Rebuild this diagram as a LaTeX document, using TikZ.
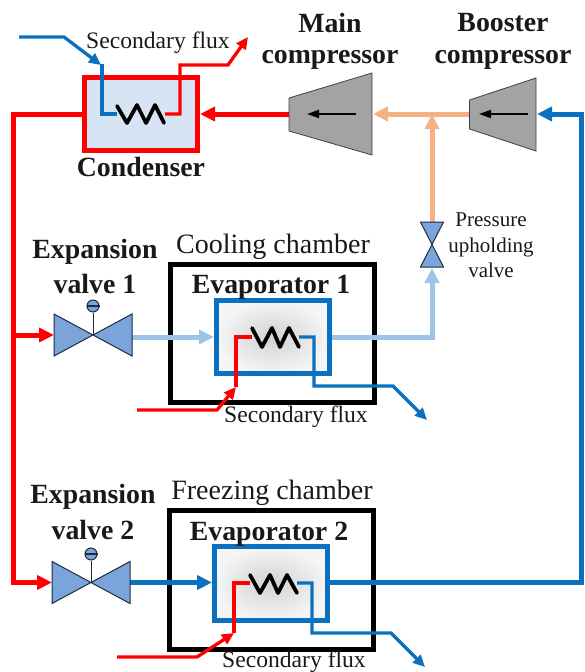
\documentclass[tikz,border=0pt]{standalone}
\usepackage{fontspec}
\setmainfont{Liberation Serif}
\usetikzlibrary{arrows.meta}
\definecolor{cred}{HTML}{FF0000}
\definecolor{cblue}{HTML}{0A70C0}
\definecolor{clight}{HTML}{9DC3E6}
\definecolor{corange}{HTML}{F4B183}
\definecolor{cvalve}{HTML}{7BA5DA}
\definecolor{cedge}{HTML}{1D2B40}
\definecolor{cgray}{HTML}{A3A3A3}
\tikzset{
  pipe/.style={line width=5pt,line join=miter},
  flux/.style={line width=3.3pt,line join=miter},
  bigtip/.style={-{Triangle[length=15pt,width=14pt]}},
  smalltip/.style={-{Triangle[length=12pt,width=11pt]}},
  chamber/.style={draw=black,line width=5pt,inner sep=0pt,fill=white},
  evap/.style={draw=cblue,line width=5pt,inner sep=0pt,minimum width=113pt,inner color=gray!35,outer color=gray!8},
  cond/.style={draw=cred,line width=5pt,inner sep=0pt,minimum width=113pt,minimum height=73pt,fill=cvalve!30},
  coil/.style={draw=black,line width=3.8pt,line join=round,line cap=round},
  valveshape/.style={draw=cedge,line width=1pt,fill=cvalve,line join=miter},
  comp/.style={draw=black!75,line width=.8pt,fill=cgray},
  inner/.style={draw=black,line width=1.8pt,-{Triangle[length=12pt,width=8pt]}},
  bold/.style={font=\fontsize{27.8}{30}\selectfont\bfseries,inner sep=0pt,text=black!90},
  plain/.style={font=\fontsize{28}{30}\selectfont,inner sep=0pt,text=black!90},
  small/.style={font=\fontsize{23.6}{28}\selectfont,inner sep=0pt,text=black!90},
  tiny/.style={font=\fontsize{21}{24}\selectfont,inner sep=0pt,text=black!90},
}
\begin{document}
\begin{tikzpicture}[x=1pt,y=-1pt]
\useasboundingbox (0,0) rectangle (584,672);
% chambers and exchangers
\node[chamber,minimum width=204pt,minimum height=138pt] (box1) at (272.5,333.5) {};
\node[chamber,minimum width=204pt,minimum height=139pt] (box2) at (271.5,580) {};
\node[evap,minimum height=73pt] (ev1) at (273,337) {};
\node[evap,minimum height=74pt] (ev2) at (271,583.5) {};
\node[cond] (con) at (141,114) {};
% anchors
\coordinate (m1) at (289,114); \coordinate (m2) at (373,114);
\coordinate (b1) at (469.5,114); \coordinate (b2) at (537,114);
\coordinate (tee) at (432,114);
\coordinate (pv) at (432,244.5);
\coordinate (pvt) at (432,222); \coordinate (pvb) at (432,268);
\coordinate (v1) at (93,335); \coordinate (v1i) at (54,335); \coordinate (v1o) at (132,337);
\coordinate (v2) at (91,582.5); \coordinate (v2i) at (52,582.5); \coordinate (v2o) at (130,582.5);
\coordinate (rc) at (13,114); \coordinate (rj) at (13,335); \coordinate (rb) at (13,582.5);
\coordinate (lb) at (432,337);
\coordinate (bc) at (581.5,582.5); \coordinate (bt) at (581.5,114);
% pipes
\draw[pipe,cred] (con.west) -- (rc) -- (rb) -- ++(12,0);
\draw[pipe,cred,bigtip] (rb) -- (v2i);
\draw[pipe,cred,bigtip] (rj) -- (v1i);
\draw[pipe,cred,bigtip] (m1) -- (con.east);
\draw[pipe,corange,bigtip] (b1) -- (m2);
\draw[pipe,corange,bigtip] (pvt) -- (tee);
\draw[pipe,clight,bigtip] (v1o) -- (ev1.west |- v1o);
\draw[pipe,clight,bigtip] (ev1.east |- v1o) -- (lb) -- (pvb);
\draw[pipe,cblue,bigtip] (v2o) -- (ev2.west |- v2o);
\draw[pipe,cblue,bigtip] (ev2.east |- v2o) -- (bc) -- (bt) -- (b2);
% compressors
\draw[comp] (289,98) -- (372,73) -- (372,155) -- (289,131) -- cycle;
\draw[comp] (469.5,100) -- (536,78) -- (536,151) -- (469.5,129) -- cycle;
\coordinate (mia) at (356,114); \coordinate (mib) at (307,114);
\coordinate (bia) at (528,114); \coordinate (bib) at (479,114);
\draw[inner] (mia) -- (mib);
\draw[inner] (bia) -- (bib);
% valves
\draw[valveshape] (v1) -- ++(-39,-21) -- ++(0,42) -- cycle;
\draw[valveshape] (v1) -- ++(39,-21) -- ++(0,42) -- cycle;
\draw[valveshape] (v2) -- ++(-39,-21) -- ++(0,42) -- cycle;
\draw[valveshape] (v2) -- ++(39,-21) -- ++(0,42) -- cycle;
\draw[valveshape] (pv) -- ++(-11.5,-22.5) -- ++(23,0) -- cycle;
\draw[valveshape] (pv) -- ++(-11.5,22.5) -- ++(23,0) -- cycle;
\node[circle,draw=cedge,line width=1pt,fill=cvalve,minimum size=12pt,inner sep=0pt] (h1) at (93,306) {};
\node[circle,draw=cedge,line width=1pt,fill=cvalve,minimum size=12pt,inner sep=0pt] (h2) at (91,554) {};
\draw[cedge,line width=.8pt] (h1.south) -- (v1);
\draw[cedge,line width=.8pt] (h2.south) -- (v2);
\draw[cedge,line width=1.2pt] (h1.west) -- (h1.east);
\draw[cedge,line width=1.2pt] (h2.west) -- (h2.east);
% condenser secondary flux
\coordinate (c0) at (19,37); \coordinate (c1) at (64,37); \coordinate (c2) at (101,65);
\coordinate (c3) at (102,64); \coordinate (c4) at (102,114); \coordinate (c5) at (117,114);
\coordinate (c6) at (165,114); \coordinate (c7) at (180,114); \coordinate (c8) at (180,65);
\coordinate (c9) at (228,65); \coordinate (c10) at (248,37);
\draw[flux,cblue,smalltip] (c0) -- (c1) -- (c2);
\draw[flux,cblue] (c3) -- (c4) -- (c5);
\draw[flux,cred,smalltip] (c6) -- (c7) -- (c8) -- (c9) -- (c10);
\draw[coil] (117,106) -- (127,123) -- (137,105) -- (146,123) -- (155,105) -- (164,123);
% evaporator 1 secondary flux
\coordinate (d0) at (137,410); \coordinate (d1) at (217,410); \coordinate (d2) at (236,387);
\coordinate (d3) at (236,337); \coordinate (d4) at (252,337);
\coordinate (d5) at (299,337); \coordinate (d6) at (314,337); \coordinate (d7) at (314,386);
\coordinate (d8) at (393,386); \coordinate (d9) at (427,420);
\draw[flux,cred,smalltip] (d0) -- (d1) -- (d2);
\draw[flux,cred] (d2) -- (d3) -- (d4);
\draw[flux,cblue,smalltip] (d5) -- (d6) -- (d7) -- (d8) -- (d9);
\draw[coil] (252,328) -- (262,347) -- (272,328) -- (280,347) -- (289,328) -- (299,347);
% evaporator 2 secondary flux
\coordinate (e0) at (117,657); \coordinate (e1) at (197,657); \coordinate (e2) at (234,633);
\coordinate (e3) at (234,583); \coordinate (e4) at (250,583);
\coordinate (e5) at (297,583); \coordinate (e6) at (312,583); \coordinate (e7) at (312,633);
\coordinate (e8) at (391,633); \coordinate (e9) at (425,667);
\draw[flux,cred,smalltip] (e0) -- (e1) -- (e2);
\draw[flux,cred] (e2) -- (e3) -- (e4);
\draw[flux,cblue,smalltip] (e5) -- (e6) -- (e7) -- (e8) -- (e9);
\draw[coil] (250,575) -- (260,593) -- (270,575) -- (278,593) -- (287,575) -- (297,593);
% texts
\node[small] (s1) at (158,43) {Secondary flux};
\node[small] (s2) at (296,417) {Secondary flux};
\node[small] (s3) at (294,662) {Secondary flux};
\node[bold] (tc) at (141,167) {Condenser};
\node[bold] (t1) at (330,23) {Main};
\node[bold] (t2) at (330,60) {compressor};
\node[bold] (t3) at (503,23) {Booster};
\node[bold] (t4) at (503,60) {compressor};
\node[tiny] (p1) at (491,220) {Pressure};
\node[tiny] (p2) at (491,247) {upholding};
\node[tiny] (p3) at (491,270) {valve};
\node[bold] (x1) at (95,252) {Expansion};
\node[bold] (x2) at (95,284) {valve 1};
\node[bold] (x3) at (93,497) {Expansion};
\node[bold] (x4) at (93,530) {valve 2};
\node[plain] (k1) at (273,247) {Cooling chamber};
\node[plain] (k2) at (272,493) {Freezing chamber};
\node[bold] (n1) at (271,287) {Evaporator 1};
\node[bold] (n2) at (269,534) {Evaporator 2};
\end{tikzpicture}
\end{document}
